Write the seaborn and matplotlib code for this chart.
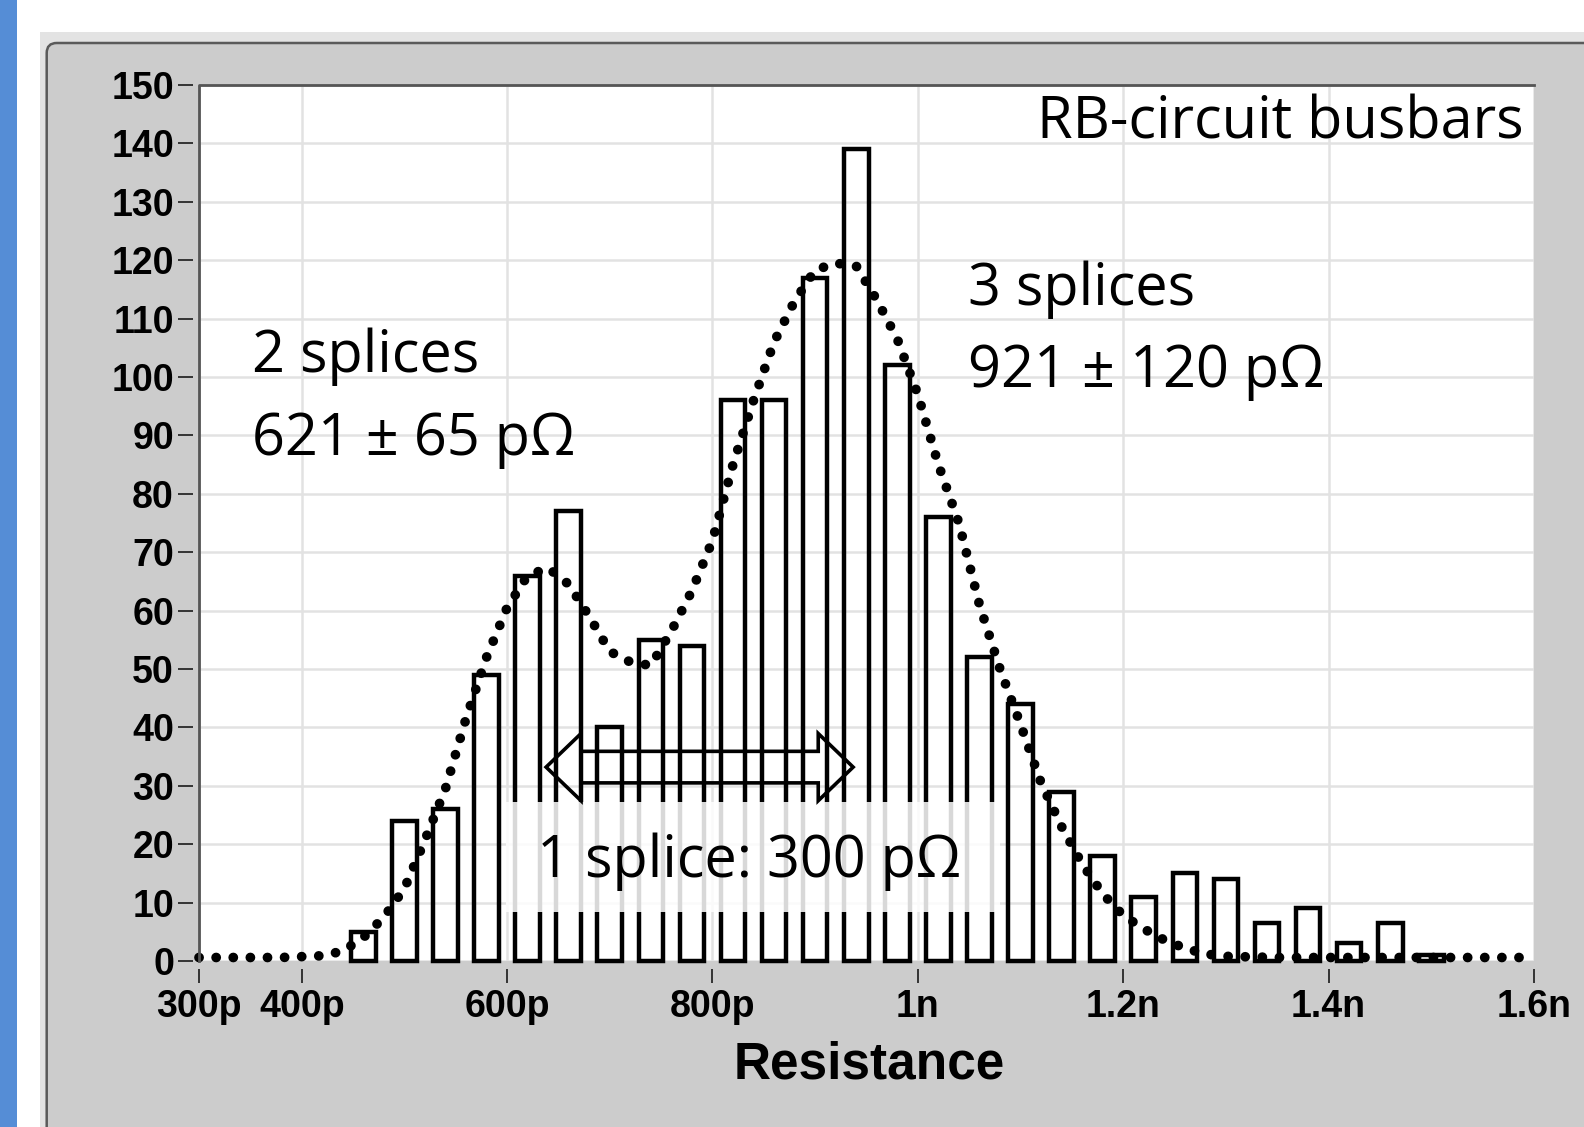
import numpy as np
import pandas as pd
import matplotlib
matplotlib.use("Agg")
import matplotlib.pyplot as plt
from matplotlib.patches import Rectangle, FancyBboxPatch, Polygon
import seaborn as sns

# histogram of busbar resistances, bin centres in pOhm
bin_centers = [460, 500, 540, 580, 620, 660, 700, 740, 780, 820, 860, 900, 940, 980,
               1020, 1060, 1100, 1140, 1180, 1220, 1260, 1300, 1340, 1380, 1420, 1460, 1500]
counts = [5, 24, 26, 49, 66, 77, 40, 55, 54, 96, 96, 117, 139, 102,
          76, 52, 44, 29, 18, 11, 15, 14, 6.5, 9, 3, 6.5, 1]

# double gaussian fit (dotted curve)
fit_x = [300, 340, 380, 420, 440, 460, 480, 500, 520, 540, 560, 580, 600, 620, 640, 660,
         680, 700, 720, 740, 760, 780, 800, 820, 840, 860, 880, 900, 920, 940, 960, 980,
         1000, 1020, 1040, 1060, 1080, 1100, 1120, 1140, 1160, 1180, 1200, 1220, 1240,
         1260, 1280, 1300, 1350, 1400, 1450, 1500, 1550, 1600]
fit_y = [0.6, 0.6, 0.6, 0.9, 1.7, 4.0, 7.5, 12.4, 20.7, 29.5, 41.5, 52, 60.5, 66, 67.3, 64.5,
         59, 53, 51.2, 50.6, 56.5, 63.4, 72, 85, 96, 106, 113, 118.3, 119.5, 119, 113.2, 106.5,
         97, 85, 75, 61, 50, 40.5, 30.5, 23, 16.6, 11.5, 7.8, 5.5, 3.6,
         2.2, 1.2, 0.8, 0.6, 0.6, 0.6, 0.6, 0.6, 0.6]

x_ticks = [300, 400, 600, 800, 1000, 1200, 1400, 1600]
x_tick_labels = ["300p", "400p", "600p", "800p", "1n", "1.2n", "1.4n", "1.6n"]
y_ticks = list(range(0, 151, 10))

# 1 splice arrow (pOhm) and its height
arrow_from, arrow_to, arrow_y = 638, 937, 33.2

W, H = 15.84, 11.27
fig = plt.figure(figsize=(W, H), dpi=100)
fig.patch.set_facecolor("white")

# labview-ish frame behind the graph (inches)
tr = fig.dpi_scale_trans
fig.patches.append(Rectangle((0, 0), 0.167, H, transform=tr, fc="#558dd6", ec="none", zorder=-10))
fig.patches.append(Rectangle((0.40, 0), W - 0.40, H - 0.32, transform=tr, fc="#e3e3e3",
                             ec="none", zorder=-10))
fig.patches.append(FancyBboxPatch((0.467, -0.3), W, H - 0.43 + 0.3, transform=tr,
                                  boxstyle="round,pad=0,rounding_size=0.1",
                                  fc="#cccccc", ec="#5a5a5a", lw=1.8, zorder=-9))

ax = fig.add_axes([199 / 1584, 1 - 961 / 1127, (1534 - 199) / 1584, (961 - 85) / 1127])
ax.set_facecolor("white")

hist = pd.DataFrame({"resistance": bin_centers, "count": counts})
edges = [c - 20 for c in bin_centers] + [bin_centers[-1] + 20]
sns.histplot(data=hist, x="resistance", weights="count", bins=edges, shrink=0.6,
             fill=False, color="black", alpha=1, linewidth=3.2, ax=ax)
for p in ax.patches:
    p.set_clip_on(False)
    p.set_zorder(2)

sns.lineplot(x=fit_x, y=fit_y, ax=ax, color="black", linewidth=7,
             linestyle=(0, (0.01, 1.75)), dash_capstyle="round", errorbar=None,
             zorder=4, clip_on=False)

# spines first (moving them resets the ticks)
for s in ax.spines.values():
    s.set_visible(False)
ax.spines["left"].set_position(("outward", 4))
ax.spines["bottom"].set_position(("outward", 6))

ax.set_xlim(300, 1600)
ax.set_ylim(0, 150)
ax.tick_params(axis="y", direction="out", length=10.5, width=1.4, color="#333333", pad=3.5,
               labelsize=27)
ax.tick_params(axis="x", direction="out", length=10, width=1.4, color="#333333", pad=4.5,
               labelsize=27)
ax.set_xticks(x_ticks, labels=x_tick_labels, fontfamily="Liberation Sans",
              fontweight="bold", fontsize=27)
ax.set_yticks(y_ticks, labels=[str(v) for v in y_ticks], fontfamily="Liberation Sans",
              fontweight="bold", fontsize=27)
ax.grid(True, color="#e2e2e2", lw=1.8)
ax.set_axisbelow(True)
# sunken frame: dark on top and left
ax.plot([0, 0, 1], [0, 1, 1], transform=ax.transAxes, color="#555555", lw=2,
        clip_on=False, zorder=5)

ax.set_ylabel("")
ax.set_xlabel("Resistance", fontfamily="Liberation Sans", fontweight="bold", fontsize=37)
ax.xaxis.set_label_coords(0.502, -0.1336)
ax.xaxis.label.set_verticalalignment("baseline")

font = ["Open Sans", "DejaVu Sans"]
tsize = 41.5
ax.text(0.9925, 0.939, "RB-circuit busbars", transform=ax.transAxes, ha="right",
        va="baseline", fontsize=tsize, family=font, zorder=6)
ax.text(0.040, 0.6727, "2 splices", transform=ax.transAxes, va="baseline",
        fontsize=tsize, family=font, zorder=6)
ax.text(0.040, 0.5777, "621 ± 65 pΩ", transform=ax.transAxes, va="baseline",
        fontsize=tsize, family=font, zorder=6)
ax.text(0.576, 0.749, "3 splices", transform=ax.transAxes, va="baseline",
        fontsize=tsize, family=font, zorder=6)
ax.text(0.576, 0.6556, "921 ± 120 pΩ", transform=ax.transAxes, va="baseline",
        fontsize=tsize, family=font, zorder=6)

# half transparent box behind the 1 splice label
ax.add_patch(Rectangle((0.2296, 0.0563), 0.3704, 0.1255, transform=ax.transAxes,
                       fc="white", ec="none", alpha=0.85, zorder=3))
ax.text(0.2532, 0.0962, "1 splice: 300 pΩ", transform=ax.transAxes, va="baseline",
        fontsize=tsize, family=font, zorder=6)

# hollow double headed arrow
head, hh, bh = 34, 5.75, 2.7
a0, a1 = arrow_from, arrow_to
arrow_pts = [(a0, arrow_y), (a0 + head, arrow_y + hh), (a0 + head, arrow_y + bh),
             (a1 - head, arrow_y + bh), (a1 - head, arrow_y + hh), (a1, arrow_y),
             (a1 - head, arrow_y - hh), (a1 - head, arrow_y - bh),
             (a0 + head, arrow_y - bh), (a0 + head, arrow_y - hh)]
ax.add_patch(Polygon(arrow_pts, closed=True, fill=False, ec="black", lw=2.6,
                     joinstyle="miter", zorder=5))

fig.savefig("out.png", dpi=100, facecolor=fig.get_facecolor())
